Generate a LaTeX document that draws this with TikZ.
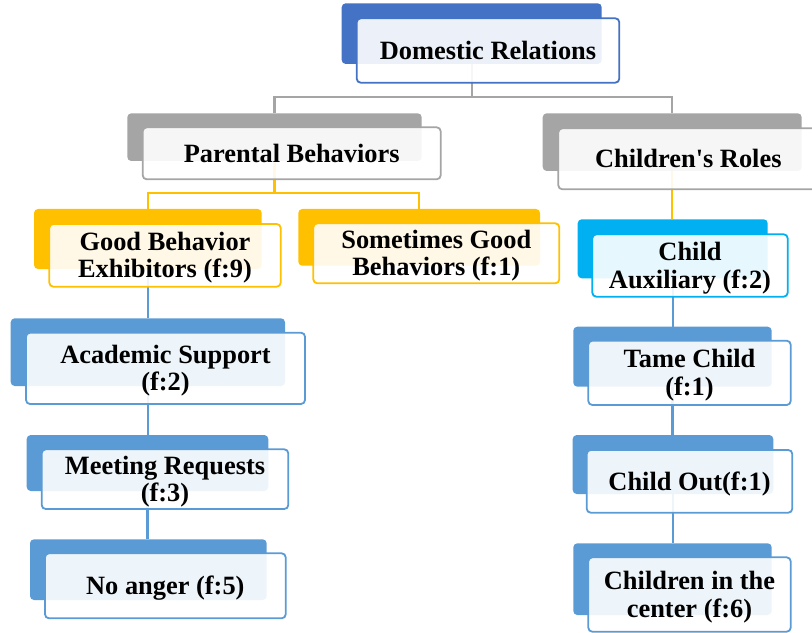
\documentclass[tikz,border=0pt]{standalone}
\usepackage{fontspec}
\setmainfont{Liberation Serif}
\newfontfamily\boxfamily{Liberation Serif}
\usetikzlibrary{backgrounds}

\definecolor{topblue}{HTML}{4472C4}
\definecolor{midgray}{HTML}{A5A5A5}
\definecolor{gold}{HTML}{FFC000}
\definecolor{cyanblue}{HTML}{00B0F0}
\definecolor{leafblue}{HTML}{5B9BD5}

\newcommand\boxfont{\boxfamily\bfseries\fontsize{26.5}{27.6}\selectfont}
% label boxes whose height/depth are set so that the box centre is the
% centre of the capitals
\newcommand\oneline[1]{\raisebox{0pt}[17.5bp][0pt]{#1}}
\newcommand\twolines[2]{\raisebox{0pt}[45.1bp][0pt]{%
  \vbox{\halign{\hfil##\hfil\cr#1\cr#2\cr}}}}

\begin{document}
\begin{tikzpicture}[x=1bp,y=-1bp,
  span/.style args={#1/#2/#3/#4}{at={(0.5*#1+0.5*#3,0.5*#2+0.5*#4)},
    minimum width={(#3-#1)*1bp}, minimum height={(#4-#2)*1bp}},
  backbox/.style={draw=none, fill=#1, rounded corners=4bp, inner sep=0pt,
    outer sep=0pt},
  frontbox/.style={draw=#1, line width=1.8bp, fill=white, fill opacity=0.9,
    text opacity=1, rounded corners=4bp, inner sep=0pt, font=\boxfont},
  link/.style={draw=#1, line width=2.2bp}]
\useasboundingbox (0,0) rectangle (812,633);
\clip (0,0) rectangle (812,633);

% root
\node[backbox=topblue,  span=341.7/3.3/601.7/64]    (dr-b) {};
\node[frontbox=topblue, span=356.7/18.3/619.3/82.7] (dr)   {\oneline{Domestic Relations}};

% second level
\node[backbox=midgray,  span=127.3/113.3/421.7/161]   (pb-b) {};
\node[frontbox=midgray, span=142.7/127.3/440.7/179.3] (pb)   {\oneline{Parental Behaviors}};
\node[backbox=midgray,  span=542.7/113.3/801.7/171]   (cr-b) {};
\node[frontbox=midgray, span=558.3/128.3/818.3/189.3] (cr)   {\oneline{Children's Roles}};

% parental behaviours
\node[backbox=gold,  span=34/209/261.7/269]        (gb-b) {};
\node[frontbox=gold, span=49.3/224/280.7/286.7]    (gb)   {\twolines{Good Behavior}{Exhibitors (f:9)}};
\node[backbox=gold,  span=298.3/209/540/265.7]     (sg-b) {};
\node[frontbox=gold, span=313.3/223.3/559.3/283.3] (sg)   {\twolines{Sometimes Good}{Behaviors (f:1)}};

% children's roles
\node[backbox=cyanblue,  span=577.7/219.3/767.7/278.3] (ca-b) {};
\node[frontbox=cyanblue, span=592.3/234.3/787.7/296.7] (ca)   {\twolines{Child}{Auxiliary (f:2)}};

% left column
\node[backbox=leafblue,  span=10.7/318.3/285/386]    (as-b) {};
\node[frontbox=leafblue, span=26/332.7/305/404]      (as)   {\twolines{Academic Support}{(f:2)}};
\node[backbox=leafblue,  span=26.7/435/268.3/491]    (mr-b) {};
\node[frontbox=leafblue, span=41.7/449.3/288.3/509]  (mr)   {\twolines{Meeting Requests}{(f:3)}};
\node[backbox=leafblue,  span=30/539.3/266.7/600]    (na-b) {};
\node[frontbox=leafblue, span=45/553.3/285.7/618.3]  (na)   {\oneline{No anger (f:5)}};

% right column
\node[backbox=leafblue,  span=573.3/326.7/771.7/386.7] (tc-b) {};
\node[frontbox=leafblue, span=588.3/340.7/790.7/405]   (tc)   {\twolines{Tame Child}{(f:1)}};
\node[backbox=leafblue,  span=572.7/435/773.3/494]     (co-b) {};
\node[frontbox=leafblue, span=586.7/450/792.3/512.7]   (co)   {\oneline{Child Out(f:1)}};
\node[backbox=leafblue,  span=573.3/543.3/771.7/615]   (cc-b) {};
\node[frontbox=leafblue, span=588.3/557.3/790.7/631.7] (cc)   {\twolines{Children in the}{center (f:6)}};

% branch levels
\coordinate (lv1) at (0,97);
\coordinate (lv2) at (0,193.3);

\begin{pgfonlayer}{background}
  \draw[link=midgray] (dr-b.south) -- (dr-b.south |- lv1);
  \draw[link=midgray] (pb-b.north) |- (cr-b.north |- lv1) -- (cr-b.north);
  \draw[link=gold] (pb-b.south) -- (pb-b.south |- lv2);
  \draw[link=gold] (gb-b.north) |- (sg-b.north |- lv2) -- (sg-b.north);
  \draw[link=gold] (cr-b.south) -- (cr-b.south |- ca-b.north);
  \draw[link=leafblue] (gb-b.south) -- (gb-b.south |- as-b.north);
  \draw[link=leafblue] (as-b.south) -- (as-b.south |- mr-b.north);
  \draw[link=leafblue] (mr-b.south) -- (mr-b.south |- na-b.north);
  \draw[link=leafblue] (ca-b.south) -- (ca-b.south |- tc-b.north);
  \draw[link=leafblue] (tc-b.south) -- (tc-b.south |- co-b.north);
  \draw[link=leafblue] (co-b.south) -- (co-b.south |- cc-b.north);
\end{pgfonlayer}
\end{tikzpicture}
\end{document}
